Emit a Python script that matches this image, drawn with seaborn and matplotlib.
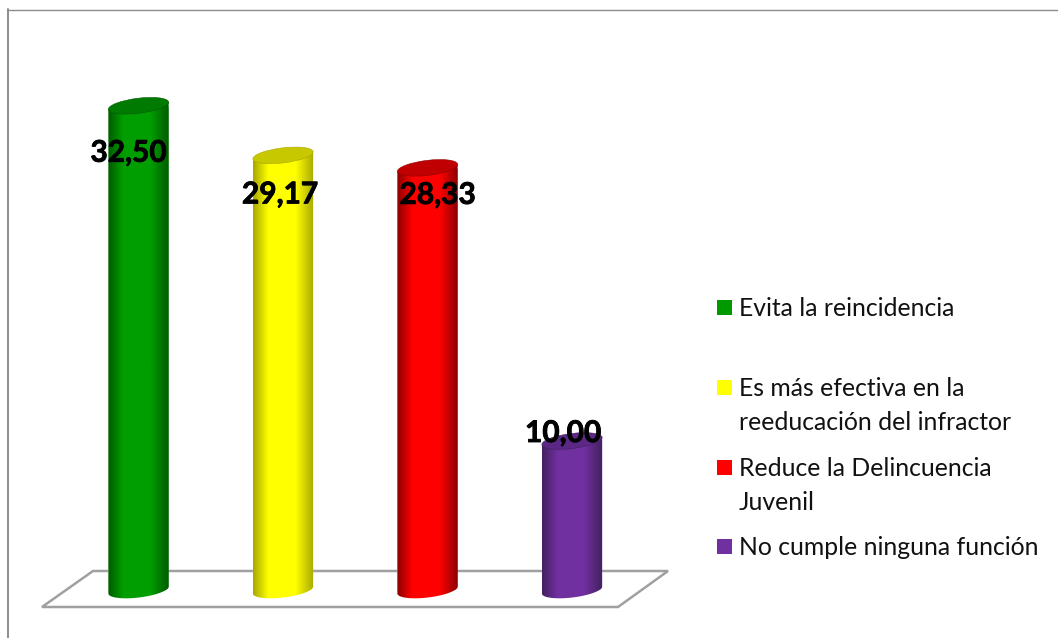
import matplotlib
matplotlib.use('Agg')
import matplotlib.pyplot as plt
import matplotlib.patheffects as pe
from matplotlib.colors import LinearSegmentedColormap
from matplotlib.lines import Line2D
from matplotlib.patches import Ellipse, Polygon, Rectangle
from matplotlib.path import Path
from matplotlib.transforms import Affine2D, IdentityTransform
import numpy as np
import seaborn as sns

categories = ['Evita la reincidencia',
              'Es más efectiva en la\nreeducación del infractor',
              'Reduce la Delincuencia\nJuvenil',
              'No cumple ninguna función']
values = [32.50, 29.17, 28.33, 10.00]
value_labels = ['32,50', '29,17', '28,33', '10,00']

base_colors = ['#009e00', '#ffff00', '#ff0000', '#7030a0']
edge_colors = ['#005a00', '#a8a800', '#8c0000', '#43205f']
top_colors = ['#007a00', '#c8c800', '#c00000', '#5b2885']

# label offsets from the bar top and legend rows, in pixels
label_dx = [-10, -3, 10, -9]
label_dy = [-47, -39, -27, 8]
legend_y = [307, 387, 467, 546]

W, H = 1058, 638
TILT = np.radians(7)
plt.rcParams['figure.dpi'] = 100
sns.set_theme(style='white')
plt.rcParams['font.family'] = ['Lato', 'DejaVu Sans']

fig = plt.figure(figsize=(W / 100, H / 100), dpi=100, facecolor='white')
ax = fig.add_axes([0, 0, 1, 1])

sns.barplot(x=categories, y=values, hue=categories, palette=base_colors,
            order=categories, hue_order=categories, legend=False,
            width=0.42, saturation=1, ax=ax)
bars = [p for p in ax.patches if isinstance(p, Rectangle)]

# pixel layout of the old chart: bars 144.5px apart, 14.9px per unit, base at y=590
ax.set_xlim((0 - 138.5) / 144.5, (W - 138.5) / 144.5)
ax.set_ylim((590 - H) / 14.9, 590 / 14.9)
ax.axis('off')

px = Affine2D().scale(1, -1).translate(0, H)


def rim(cx, cy, a, b, t):
    # points on a tilted ellipse, display coords
    return np.column_stack([cx + a * np.cos(t) * np.cos(TILT) - b * np.sin(t) * np.sin(TILT),
                            cy + a * np.cos(t) * np.sin(TILT) + b * np.sin(t) * np.cos(TILT)])


# floor and outer frame
ax.add_patch(Polygon([(42, 607), (93, 571), (668, 571), (618, 607)], closed=True,
                     facecolor='white', edgecolor='#a0a0a0', linewidth=1.8,
                     transform=px, zorder=0.5))
fig.add_artist(Line2D([8, 8], [H, 9], color='#8c8c8c', linewidth=1.4, transform=px))
fig.add_artist(Line2D([7, W], [9.5, 9.5], color='#8c8c8c', linewidth=1.0, transform=px))

for i, bar in enumerate(bars):
    x0, x1 = bar.get_x(), bar.get_x() + bar.get_width()
    cmap = LinearSegmentedColormap.from_list(
        'shade', [(0, edge_colors[i]), (0.25, base_colors[i]), (0.7, base_colors[i]), (1, edge_colors[i])])
    cx, cy = ax.transData.transform((i, 0))
    tx, ty = ax.transData.transform((i, values[i]))
    bx, _ = ax.transData.transform((x1, 0))
    a = bx - cx
    # bar outline with a rounded foot, used to clip both bar and shading
    foot = rim(cx, cy, a, 7.5, np.linspace(np.pi, 2 * np.pi, 40))
    head = rim(tx, ty, a, 7.5, np.array([0, np.pi]))
    clip = Path(np.vstack([foot, head, foot[:1]]), closed=True)
    bar.set_clip_path(clip, IdentityTransform())
    im = ax.imshow(np.linspace(0, 1, 128).reshape(1, -1), cmap=cmap, aspect='auto',
                   extent=(x0, x1, -1, values[i] + 1), zorder=2)
    im.set_clip_path(clip, IdentityTransform())
    ax.add_patch(Ellipse((tx, ty), 2 * a, 15, angle=7, facecolor=top_colors[i],
                         edgecolor=edge_colors[i], linewidth=0.4,
                         transform=IdentityTransform(), zorder=3))
    ax.annotate(value_labels[i], (i, values[i]), xytext=(label_dx[i], label_dy[i]),
                textcoords='offset pixels', ha='center', va='center',
                fontsize=21.5, fontweight='bold', color='black', zorder=4,
                path_effects=[pe.withStroke(linewidth=0.6, foreground='black')])

ax.set_xlim((0 - 138.5) / 144.5, (W - 138.5) / 144.5)
ax.set_ylim((590 - H) / 14.9, 590 / 14.9)

# legend rows
for i, label in enumerate(categories):
    y = legend_y[i]
    fig.add_artist(Rectangle((717, y - 7), 15, 15, facecolor=base_colors[i] if i else '#009900',
                             edgecolor='none', transform=px))
    fig.text(739 / W, 1 - (y - 10) / H, label, fontsize=17.85, color='#111111',
             ha='left', va='top', linespacing=1.57)

fig.savefig('out.png', dpi=100)
